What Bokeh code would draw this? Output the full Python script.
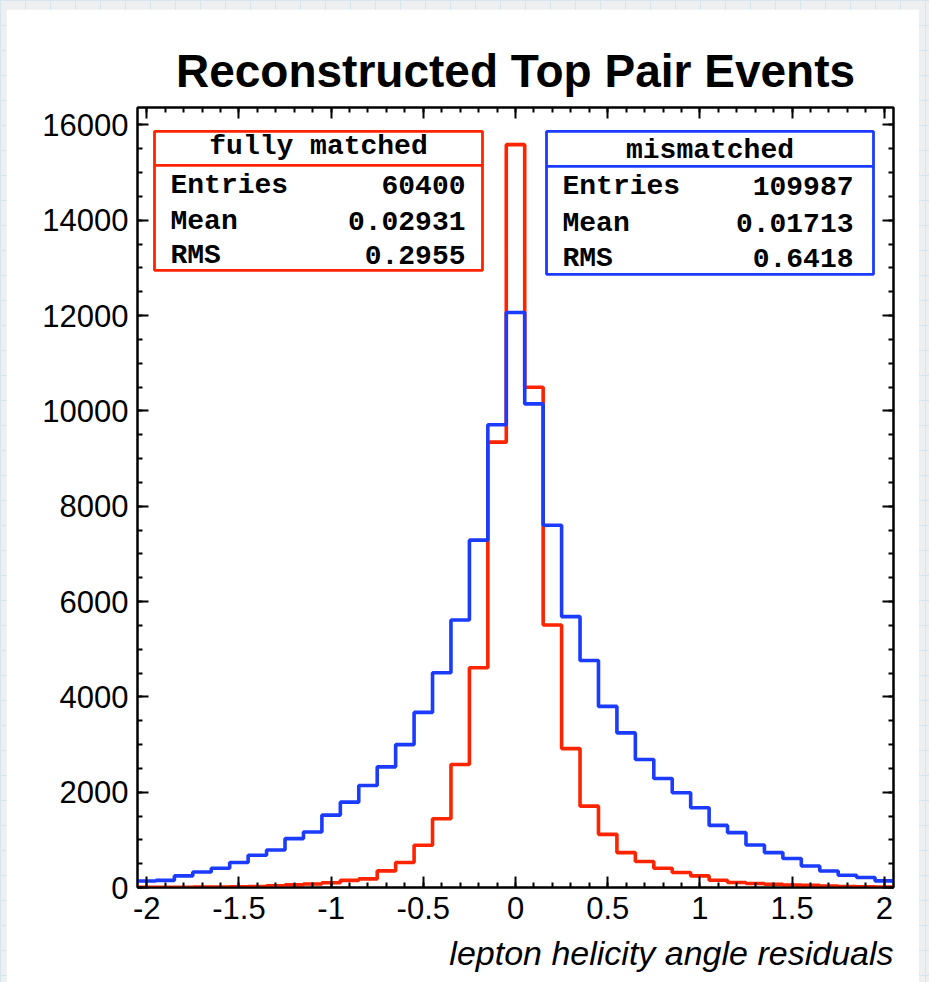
import numpy as np
from bokeh.plotting import figure
from bokeh.models import Range1d, LinearAxis, SingleIntervalTicker, Title
from bokeh.layouts import column
from bokeh.core.properties import value
from bokeh.embed import file_html
from bokeh.resources import INLINE

# ---- histogram definition: 41 bins of width 0.1 on [-2.05, 2.05] ----
x_lo, x_hi, n_bins = -2.05, 2.05, 41

# bin contents, left to right (bin centres -2.0 ... 2.0)
fully_matched = [4, 5, 6, 8, 10, 13, 21, 35, 55, 75,
                 100, 150, 180, 348, 523, 885, 1443, 2580, 4610, 9343,
                 15585,
                 10494, 5508, 2914, 1707, 1115, 732, 544, 404, 314, 243,
                 153, 105, 84, 69, 54, 48, 33, 21, 15, 10]
mismatched = [135, 150, 243, 326, 404, 523, 676, 787, 1025, 1163,
              1519, 1791, 2140, 2531, 2998, 3674, 4504, 5613, 7287, 9708,
              12062,
              10146, 7600, 5682, 4761, 3799, 3243, 2684, 2287, 1987, 1674,
              1303, 1151, 891, 732, 607, 452, 347, 257, 209, 138]

stats_labels = ["Entries", "Mean", "RMS"]
stats_matched = ["60400", "0.02931", "0.2955"]
stats_mismatched = ["109987", "0.01713", "0.6418"]

x_ticks = [-2, -1.5, -1, -0.5, 0, 0.5, 1, 1.5, 2]
x_tick_labels = ["-2", "-1.5", "-1", "-0.5", "0", "0.5", "1", "1.5", "2"]

title_text = "Reconstructed Top Pair Events"
xlabel_text = "lepton helicity angle residuals"

RED = "#ff2400"
BLUE = "#1b3bff"

y_top = 1.05 * max(fully_matched)

# ---- geometry (page pixels) ----
OFF_X, OFF_Y = 6, 9                 # white panel offset inside the page
W, H = 913, 973                     # white panel size
F_L, F_R, F_T, F_B = 137, 893, 107, 888   # frame edges on the page

p = figure(width=W, height=H, output_backend="svg", toolbar_location=None,
           x_range=Range1d(x_lo, x_hi), y_range=Range1d(0, y_top),
           min_border_left=F_L - OFF_X, min_border_right=OFF_X + W - F_R,
           min_border_top=F_T - OFF_Y, min_border_bottom=OFF_Y + H - F_B,
           x_axis_type=None, y_axis_type=None)
p.margin = (OFF_Y, 929 - OFF_X - W, 0, OFF_X)
p.background_fill_color = "white"
p.border_fill_color = "white"
p.outline_line_color = "black"
p.outline_line_width = 2
p.xgrid.visible = False
p.ygrid.visible = False


def dx(px):
    return x_lo + (px - F_L) / (F_R - F_L) * (x_hi - x_lo)


def dy(py):
    return (F_B - py) / (F_B - F_T) * y_top


TICK_FONT = "Liberation Sans"


def make_axis(kind, labels):
    if kind == "x":
        t = SingleIntervalTicker(interval=0.5, num_minor_ticks=5)
    else:
        t = SingleIntervalTicker(interval=2000, num_minor_ticks=4)
    ax = LinearAxis(ticker=t)
    ax.axis_line_color = "black"
    ax.axis_line_width = 2
    ax.major_tick_line_color = "black"
    ax.major_tick_line_width = 2
    ax.minor_tick_line_color = "black"
    ax.minor_tick_line_width = 2
    ax.major_tick_in = 11
    ax.major_tick_out = 0
    ax.minor_tick_in = 5
    ax.minor_tick_out = 0
    ax.major_label_text_font = TICK_FONT
    ax.major_label_text_font_size = "31px"
    ax.major_label_text_color = "black"
    if not labels:
        ax.major_label_text_font_size = "0px"
        ax.major_label_text_alpha = 0
        ax.major_label_standoff = 0
    return ax


xb = make_axis("x", True)
xb.major_label_standoff = 9
xb.major_label_overrides = {t: s for t, s in zip(x_ticks, x_tick_labels)}
yl = make_axis("y", True)
yl.major_label_standoff = 9
p.add_layout(xb, "below")
p.add_layout(yl, "left")
p.add_layout(make_axis("x", False), "above")
p.add_layout(make_axis("y", False), "right")

# ---- histogram outlines ----
edges = np.linspace(x_lo, x_hi, n_bins + 1)


def stairs(counts):
    c = np.asarray(counts, dtype=float)
    xs = np.repeat(edges, 2)[1:-1]
    ys = np.repeat(c, 2)
    return xs, ys


xr, yr = stairs(fully_matched)
xbl, ybl = stairs(mismatched)
p.line(xr, yr, line_color=RED, line_width=3.6)
p.line(xbl, ybl, line_color=BLUE, line_width=3.6)

# ---- statistics boxes ----
MONO = value("Liberation Mono")
BASE_SHIFT = 7   # svg alphabetic baseline sits a few pixels low


def stat_box(color, left, right, top, bottom, divider, name, head_base,
             row_x, row_bases, val_x, vals):
    p.quad(left=dx(left), right=dx(right), top=dy(top), bottom=dy(bottom),
           fill_color="white", line_color=color, line_width=2.8)
    p.segment(x0=dx(left), x1=dx(right), y0=dy(divider), y1=dy(divider),
              line_color=color, line_width=2.8)
    common = dict(text_font=MONO, text_font_style="bold", text_font_size="28px",
                  text_baseline="alphabetic", text_color="black")
    p.text(x=[dx((left + right) / 2)], y=[dy(head_base - BASE_SHIFT)],
           text=[name], text_align="center", **common)
    ys = [dy(b - BASE_SHIFT) for b in row_bases]
    p.text(x=[dx(row_x)] * 3, y=ys, text=stats_labels, text_align="left", **common)
    p.text(x=[dx(val_x)] * 3, y=ys, text=vals, text_align="right", **common)


stat_box(RED, 154, 482, 131, 270, 165, "fully matched", 153,
         170, [192, 228, 262], 465, stats_matched)
stat_box(BLUE, 546, 873, 131, 274, 166, "mismatched", 157,
         562, [193, 230, 265], 853, stats_mismatched)

# ---- title and axis title ----
p.title.text = title_text
p.title.align = "center"
p.title.text_font = "Liberation Sans"
p.title.text_font_style = "bold"
p.title.text_font_size = "46px"
p.title.text_color = "black"
p.title.standoff = 22

p.add_layout(Title(text=xlabel_text, align="right",
                   text_font="Liberation Sans", text_font_style="italic",
                   text_font_size="34px", text_color="black", standoff=21),
             "below")

page = column(p, styles={
    "background-color": "#eeeff0",
    "background-image": "linear-gradient(#d6e5ee 1px, transparent 1px), "
                        "linear-gradient(90deg, #d6e5ee 1px, transparent 1px)",
    "background-size": "25px 25px",
})

open("out.html", "w").write(file_html(page, INLINE))
